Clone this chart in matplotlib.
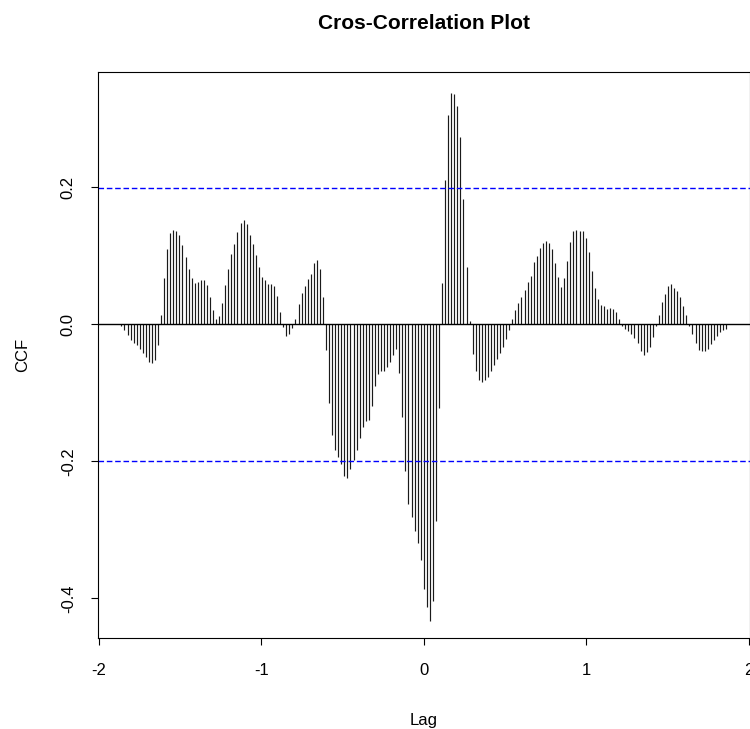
import numpy as np
import matplotlib
matplotlib.use("Agg")
import matplotlib.pyplot as plt

plt.rcParams['font.family'] = ['Liberation Sans', 'DejaVu Sans']

# ccf estimates, lag -99 .. +99 (weekly-ish series)
LAG_MAX = 99
FREQ = 53.2
ccf_vals = [
    -0.003, -0.009, -0.016, -0.023, -0.028, -0.031, -0.036, -0.042, -0.048, -0.055,
    -0.057, -0.053, -0.030,
    0.014, 0.068, 0.110, 0.133, 0.138, 0.136, 0.130, 0.115, 0.098, 0.080,
    0.067, 0.060, 0.062, 0.064, 0.065, 0.057, 0.039, 0.020, 0.008, 0.012,
    0.031, 0.057, 0.080, 0.102, 0.117, 0.135, 0.148, 0.152, 0.146, 0.130,
    0.117, 0.101, 0.083, 0.069, 0.065, 0.059, 0.058, 0.056, 0.041, 0.018,
    -0.004, -0.018, -0.014, -0.006,
    0.007, 0.029, 0.045, 0.056, 0.066, 0.073, 0.089, 0.094, 0.080, 0.040,
    -0.037, -0.115, -0.162, -0.184, -0.194, -0.204, -0.222, -0.224, -0.211, -0.198,
    -0.184, -0.166, -0.150, -0.142, -0.140, -0.120, -0.090, -0.073, -0.069, -0.068,
    -0.062, -0.055, -0.045, -0.036, -0.071, -0.136, -0.215, -0.263, -0.282, -0.302,
    -0.320, -0.344, -0.386, -0.413, -0.433, -0.404, -0.287, -0.123,
    0.060, 0.211, 0.305, 0.337, 0.336, 0.318, 0.273, 0.182, 0.083, 0.005,
    -0.043, -0.068, -0.081, -0.084, -0.082, -0.077, -0.069, -0.060, -0.051, -0.042,
    -0.033, -0.022, -0.009,
    0.008, 0.020, 0.031, 0.040, 0.050, 0.061, 0.071, 0.091, 0.099, 0.111,
    0.118, 0.121, 0.118, 0.109, 0.089, 0.069, 0.054, 0.067, 0.092, 0.120,
    0.136, 0.137, 0.136, 0.136, 0.126, 0.105, 0.078, 0.053, 0.036, 0.028,
    0.026, 0.022, 0.024, 0.022, 0.018, 0.008,
    -0.002, -0.007, -0.010, -0.014, -0.020, -0.027, -0.039, -0.045, -0.040, -0.033,
    -0.019, -0.002,
    0.014, 0.032, 0.044, 0.056, 0.058, 0.053, 0.049, 0.040, 0.027, 0.014,
    -0.003, -0.015, -0.028, -0.038, -0.039, -0.039, -0.036, -0.029, -0.023, -0.018,
    -0.012, -0.009, -0.007,
]
ci = 0.199  # approx 95% band

lags = np.arange(-LAG_MAX, LAG_MAX + 1) / FREQ
assert len(lags) == len(ccf_vals)

fig = plt.figure(figsize=(7.5, 7.29), dpi=100)
ax = fig.add_axes([98 / 750, 1 - 638 / 729, 651.5 / 750, (638 - 72) / 729])

ax.vlines(lags, 0, ccf_vals, color='#1a1a1a', linewidth=0.85)
ax.axhline(0, color='black', linewidth=1.0)
for c in (ci, -ci):
    ax.axhline(c, color='#0000ff', linewidth=1.0, dashes=(4, 2))

ax.set_xlim(-2.005, 2.005)
ax.set_ylim(-0.458, 0.368)

ax.set_xticks([-2, -1, 0, 1, 2])
ax.set_xticklabels(['-2', '-1', '0', '1', '2'])
ax.set_yticks([-0.4, -0.2, 0.0, 0.2])
ax.set_yticklabels(['-0.4', '-0.2', '0.0', '0.2'], rotation=90, va='center')
ax.tick_params(axis='both', direction='out', length=5, width=0.8, labelsize=12,
               color='black', labelcolor='black')
ax.tick_params(axis='x', pad=13)
ax.tick_params(axis='y', pad=11)

for s in ax.spines.values():
    s.set_linewidth(0.8)
    s.set_color('black')

ax.set_xlabel('Lag', fontsize=12, labelpad=25)
ax.set_ylabel('CCF', fontsize=12, labelpad=22)
ax.set_title('Cros-Correlation Plot', fontsize=15, fontweight='bold', pad=31)

fig.savefig('out.png', dpi=100)
